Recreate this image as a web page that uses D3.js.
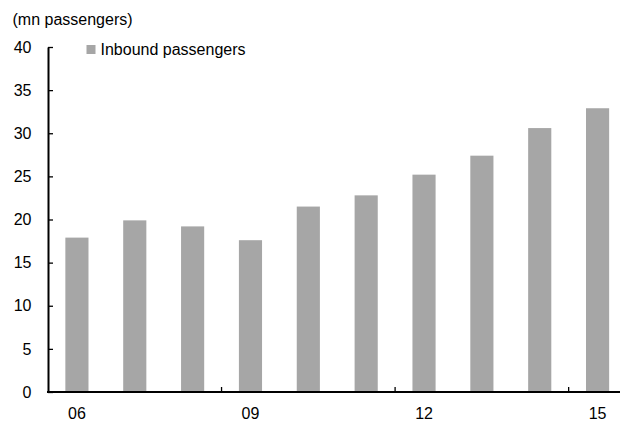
<!DOCTYPE html>
<html>
<head>
<meta charset="utf-8">
<script src="https://cdn.jsdelivr.net/npm/d3@7"></script>
<style>
  html, body { margin: 0; padding: 0; background: #fff; }
  svg { display: block; font-family: "Liberation Sans", Arial, sans-serif; }
</style>
</head>
<body>
<svg id="chart" width="620" height="421"></svg>
<script>
// Years (two-digit) and inbound passengers, millions
const years = ["06", "07", "08", "09", "10", "11", "12", "13", "14", "15"];
const inbound = [17.9, 19.9, 19.2, 17.6, 21.5, 22.8, 25.2, 27.4, 30.6, 32.9];
const yTicks = [0, 5, 10, 15, 20, 25, 30, 35, 40];
const xLabels = ["06", "09", "12", "15"];
const seriesName = "Inbound passengers";
const unitLabel = "(mn passengers)";

const barColor = "#a6a6a6";
const svg = d3.select("#chart");

const plotLeft = 48, plotRight = 626.5, plotTop = 47, plotBottom = 392;

const x = d3.scaleBand()
  .domain(years)
  .range([plotLeft, plotRight])
  .paddingInner(0.6)
  .paddingOuter(0.3);

const y = d3.scaleLinear()
  .domain([0, 40])
  .range([plotBottom, plotTop]);

// Bars
svg.append("g")
  .selectAll("rect")
  .data(years.map((yr, i) => ({ yr, v: inbound[i] })))
  .join("rect")
  .attr("x", d => x(d.yr))
  .attr("width", x.bandwidth())
  .attr("y", d => y(d.v))
  .attr("height", d => y(0) - y(d.v))
  .attr("fill", barColor);

// Y axis: ticks point inward, labels right-aligned left of the axis
const yAxis = svg.append("g")
  .attr("transform", `translate(${plotLeft},0)`)
  .call(d3.axisLeft(y).tickValues(yTicks).tickSizeInner(-5).tickSizeOuter(0).tickPadding(16.5));
yAxis.select(".domain").attr("stroke", "#000").attr("stroke-width", 2);
yAxis.selectAll(".tick line").attr("stroke", "#000").attr("stroke-width", 1.3);
yAxis.selectAll(".tick text")
  .attr("fill", "#000")
  .style("font-size", "16px")
  .style("font-family", "'Liberation Sans', Arial, sans-serif");

// X axis: labels under every third year, no tick marks from the axis itself
const xAxis = svg.append("g")
  .attr("transform", `translate(0,${plotBottom})`)
  .call(d3.axisBottom(x).tickValues(xLabels).tickSize(0).tickPadding(16));
xAxis.select(".domain").remove();
xAxis.selectAll(".tick text")
  .attr("fill", "#000")
  .style("font-size", "16px")
  .style("font-family", "'Liberation Sans', Arial, sans-serif");

// Baseline
svg.append("line")
  .attr("x1", plotLeft - 1).attr("x2", 620)
  .attr("y1", y(0)).attr("y2", y(0))
  .attr("stroke", "#000").attr("stroke-width", 2);

// Inward tick marks at the boundaries between year groups
const gap = x.step() - x.bandwidth();
svg.append("g")
  .selectAll("line")
  .data(xLabels.slice(1))
  .join("line")
  .attr("x1", d => x(d) - gap / 2)
  .attr("x2", d => x(d) - gap / 2)
  .attr("y1", y(0))
  .attr("y2", y(0) - 5)
  .attr("stroke", "#000")
  .attr("stroke-width", 1.3);

// Unit label
svg.append("text")
  .attr("x", 12.5).attr("y", 25)
  .attr("fill", "#000")
  .style("font-size", "16px")
  .text(unitLabel);

// Legend
const legend = svg.append("g").attr("transform", "translate(86.5,45)");
legend.append("rect")
  .attr("width", 9).attr("height", 9)
  .attr("fill", barColor);
legend.append("text")
  .attr("x", 14).attr("y", 10)
  .attr("fill", "#000")
  .style("font-size", "16px")
  .text(seriesName);
</script>
</body>
</html>
